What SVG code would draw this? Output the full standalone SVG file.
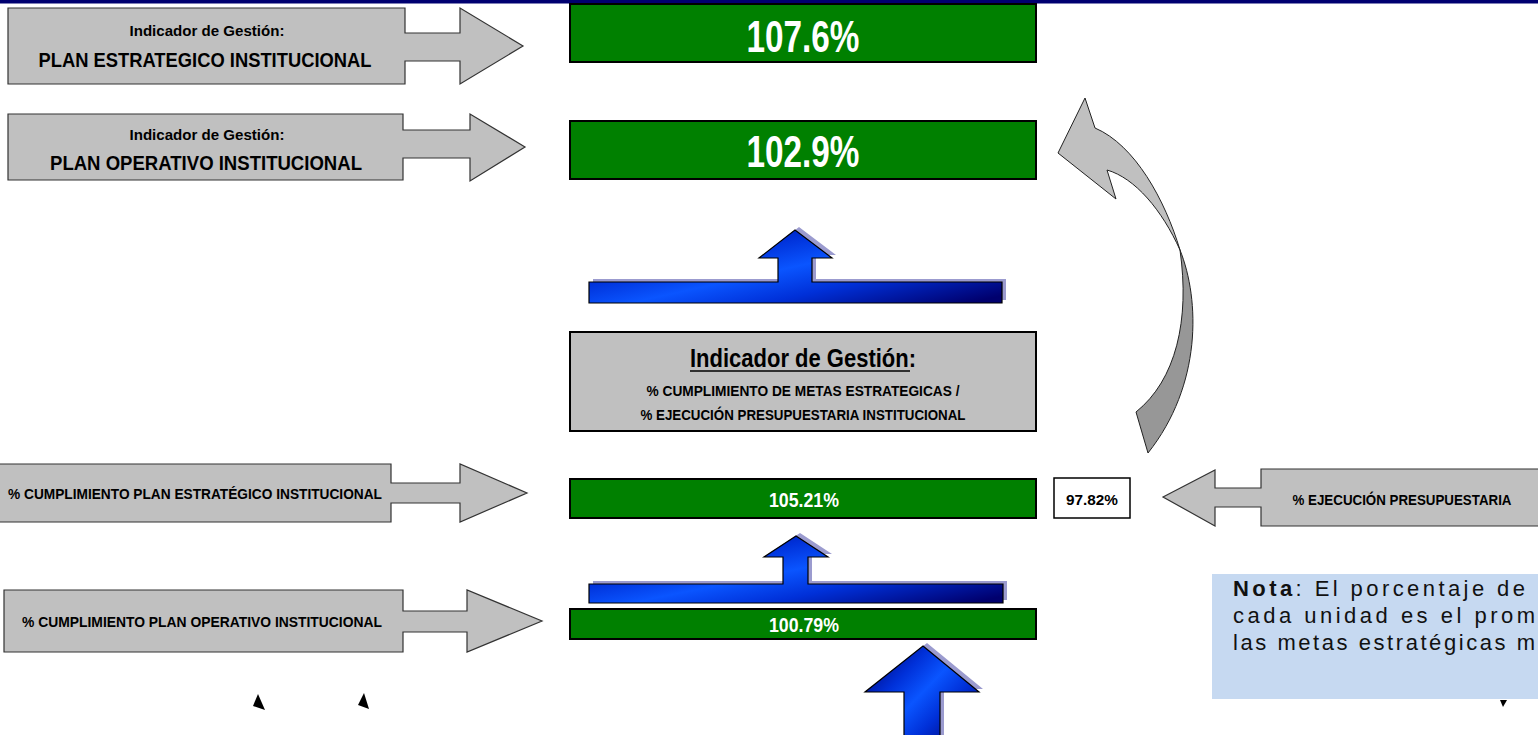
<svg xmlns="http://www.w3.org/2000/svg" width="1538" height="735" viewBox="0 0 1538 735">
<style>
.garrow{fill:#c0c0c0;stroke:#333;stroke-width:1.2}
.gbox{fill:#008000;stroke:#000;stroke-width:2}
.t{font-family:"Liberation Sans Narrow","Liberation Sans",Arial,sans-serif;font-weight:bold;fill:#000;text-anchor:middle}
.tw{font-family:"Liberation Sans Narrow","Liberation Sans",Arial,sans-serif;font-weight:bold;fill:#fff;text-anchor:middle}
.shadow{fill:#9b9bcf}
.blue{fill:url(#blueGrad);stroke:#000;stroke-width:1.2}
.note{font-family:"Liberation Sans",Arial,sans-serif;font-size:22px;fill:#111}
</style>
<defs>
<linearGradient id="blueGrad" x1="0" y1="0.1" x2="1" y2="0.9">
<stop offset="0" stop-color="#00006e"/>
<stop offset="0.3" stop-color="#0030d8"/>
<stop offset="0.5" stop-color="#0a55ff"/>
<stop offset="0.7" stop-color="#0030d8"/>
<stop offset="1" stop-color="#00006e"/>
</linearGradient>
</defs>
<rect x="0" y="0" width="1538" height="3.5" fill="#000070"/>

<g id="connectors">
<g id="blue-arrow-top">
<path class="shadow" transform="translate(4,-3)" d="M589,282 L778,282 L778,258 L759,258 L795,230 L832,258 L812,258 L812,282 L1002,282 L1002,303 L589,303 Z"/>
<path class="blue" d="M589,282 L778,282 L778,258 L759,258 L795,230 L832,258 L812,258 L812,282 L1002,282 L1002,303 L589,303 Z"/>
</g>
<g id="blue-arrow-mid">
<path class="shadow" transform="translate(4,-3)" d="M589,584 L783,584 L783,557 L764,557 L796,536 L828,557 L808,557 L808,584 L1003,584 L1003,603 L589,603 Z"/>
<path class="blue" d="M589,584 L783,584 L783,557 L764,557 L796,536 L828,557 L808,557 L808,584 L1003,584 L1003,603 L589,603 Z"/>
</g>
<g id="blue-arrow-bottom">
<path class="shadow" transform="translate(4,-3)" d="M923,646 L979,692 L940,692 L940,740 L904,740 L904,692 L865,692 Z"/>
<path class="blue" d="M923,646 L979,692 L940,692 L940,740 L904,740 L904,692 L865,692 Z"/>
</g>
<g id="curved-arrow" stroke="#222" stroke-width="1" stroke-linejoin="round">
<path fill="#c0c0c0" d="M1085,98 L1058,153 L1116,199 L1107,170 C1135,178 1162,210 1180,250 C1165,200 1135,145 1095,128 Z"/>
<path fill="#979797" d="M1180,250 C1200,300 1202,385 1148,453 L1136,412 C1176,380 1190,320 1180,250 Z"/>
</g>
</g>

<g id="node-pei-label">
<path class="garrow" d="M8,8 L405,8 L405,33 L460,33 L460,8 L523,46 L460,84 L460,61 L405,61 L405,84 L8,84 Z"/>
<text class="t" x="207" y="36" font-size="15" textLength="155" lengthAdjust="spacingAndGlyphs">Indicador de Gestión:</text>
<text class="t" x="205" y="67" font-size="20" textLength="333" lengthAdjust="spacingAndGlyphs">PLAN ESTRATEGICO INSTITUCIONAL</text>
</g>
<g id="node-poi-label">
<path class="garrow" d="M8,114 L403,114 L403,130 L470,130 L470,114 L525,147 L470,181 L470,158 L403,158 L403,180 L8,180 Z"/>
<text class="t" x="207" y="140" font-size="15" textLength="155" lengthAdjust="spacingAndGlyphs">Indicador de Gestión:</text>
<text class="t" x="206" y="170" font-size="20" textLength="312" lengthAdjust="spacingAndGlyphs">PLAN OPERATIVO INSTITUCIONAL</text>
</g>
<g id="node-pei-value">
<rect class="gbox" x="570" y="4" width="466" height="58"/>
<text class="tw" x="803" y="52" font-size="44" textLength="113" lengthAdjust="spacingAndGlyphs">107.6%</text>
</g>
<g id="node-poi-value">
<rect class="gbox" x="570" y="121" width="466" height="58"/>
<text class="tw" x="803" y="167" font-size="44" textLength="113" lengthAdjust="spacingAndGlyphs">102.9%</text>
</g>
<g id="node-indicador">
<rect x="570" y="332" width="466" height="99" fill="#c0c0c0" stroke="#000" stroke-width="2"/>
<text class="t" x="803" y="367" font-size="26" textLength="226" lengthAdjust="spacingAndGlyphs">Indicador de Gestión:</text>
<line x1="690" y1="371" x2="910" y2="371" stroke="#000" stroke-width="1.6"/>
<text class="t" x="803" y="396" font-size="15" textLength="313" lengthAdjust="spacingAndGlyphs">% CUMPLIMIENTO DE METAS ESTRATEGICAS  /</text>
<text class="t" x="803" y="420" font-size="15" textLength="325" lengthAdjust="spacingAndGlyphs">% EJECUCIÓN PRESUPUESTARIA INSTITUCIONAL</text>
</g>
<g id="node-cumpl-pei">
<path class="garrow" d="M-2,464 L391,464 L391,483 L460,483 L460,464 L527,493 L460,522 L460,503 L391,503 L391,522 L-2,522 Z"/>
<text class="t" x="195" y="499" font-size="15" textLength="374" lengthAdjust="spacingAndGlyphs">% CUMPLIMIENTO  PLAN ESTRATÉGICO INSTITUCIONAL</text>
</g>
<g id="node-cumpl-pei-value">
<rect class="gbox" x="570" y="479" width="466" height="39"/>
<text class="tw" x="804" y="507" font-size="21" textLength="70" lengthAdjust="spacingAndGlyphs">105.21%</text>
</g>
<g id="node-ejec-value">
<rect x="1054" y="478" width="76" height="40" fill="#fff" stroke="#000" stroke-width="1.5"/>
<text class="t" x="1092" y="505" font-size="15" textLength="52" lengthAdjust="spacingAndGlyphs">97.82%</text>
</g>
<g id="node-ejec-label">
<path class="garrow" d="M1163,497 L1215,470 L1215,488 L1261,488 L1261,469 L1540,469 L1540,526 L1261,526 L1261,507 L1215,507 L1215,526 Z"/>
<text class="t" x="1402" y="505" font-size="15" textLength="219" lengthAdjust="spacingAndGlyphs">% EJECUCIÓN  PRESUPUESTARIA</text>
</g>
<g id="node-cumpl-poi">
<path class="garrow" d="M4,590 L403,590 L403,611 L467,611 L467,590 L542,621 L467,652 L467,632 L403,632 L403,652 L4,652 Z"/>
<text class="t" x="202" y="627" font-size="15" textLength="360" lengthAdjust="spacingAndGlyphs">% CUMPLIMIENTO  PLAN OPERATIVO INSTITUCIONAL</text>
</g>
<g id="node-cumpl-poi-value">
<rect class="gbox" x="570" y="609" width="466" height="30"/>
<text class="tw" x="804" y="632" font-size="21" textLength="70" lengthAdjust="spacingAndGlyphs">100.79%</text>
</g>
<g id="node-nota">
<rect x="1212" y="574" width="330" height="125" fill="#c6d9f1"/>
<text class="note" x="1233" y="596" textLength="292" lengthAdjust="spacing"><tspan font-weight="bold">Nota</tspan>: El porcentaje de</text>
<text class="note" x="1233" y="623" textLength="302" lengthAdjust="spacing">cada unidad es el prom</text>
<text class="note" x="1233" y="650" textLength="302" lengthAdjust="spacing">las metas estratégicas m</text>
</g>
<g id="marks" fill="#000">
<polygon points="258,694 253,706 265,710"/>
<polygon points="364,693 358,705 369,709"/>
<polygon points="1500,700 1507,700 1503,707"/>
</g>
</svg>
